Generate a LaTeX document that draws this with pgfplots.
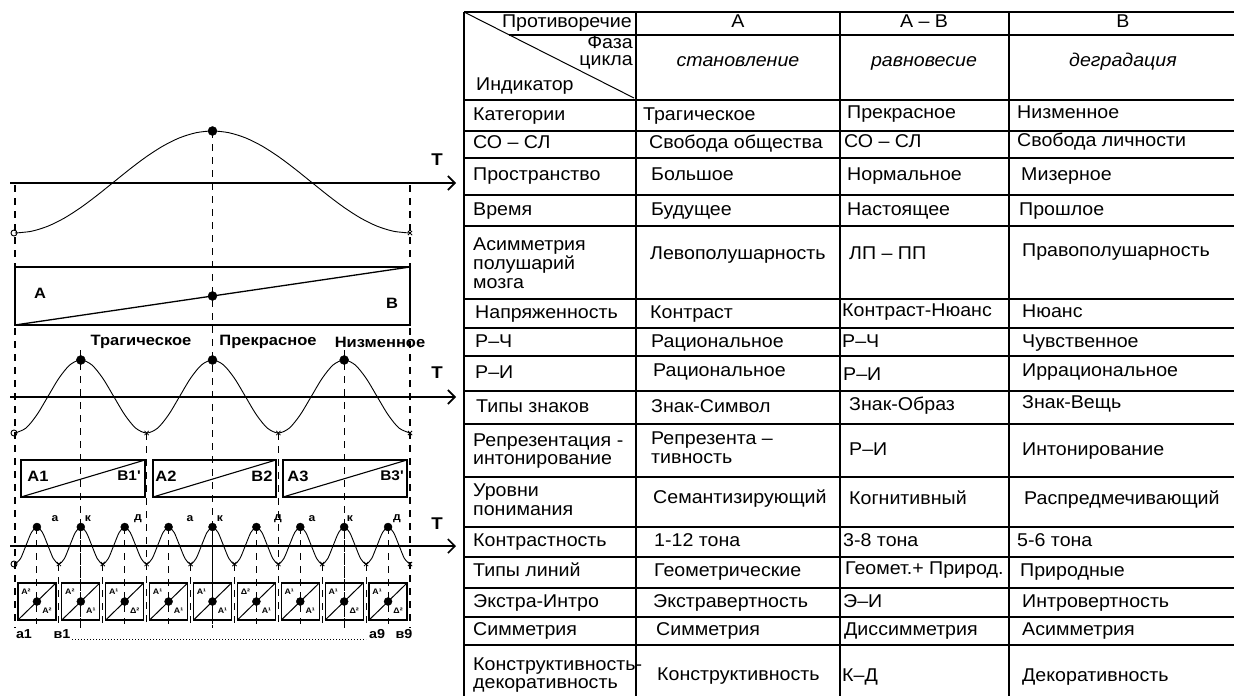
\documentclass[border=0pt]{standalone}
\usepackage{fontspec}
\setmainfont{Liberation Sans}
\newfontfamily\tabf[FakeStretch=1.06]{Liberation Sans}
\newfontfamily\tabi[FakeStretch=1.06]{Liberation Sans Italic}
\newfontfamily\lbl[FakeStretch=1.1]{Liberation Sans Bold}
\usepackage{pgfplots}
\pgfplotsset{compat=1.18}
\usetikzlibrary{arrows.meta}
\begin{document}
\begin{tikzpicture}
\tikzset{
 tab/.style={anchor=west, inner sep=0pt, font=\tabf\fontsize{18.5}{18.8}\selectfont, text height=13pt, text depth=4pt},
 tabm/.style={anchor=west, inner sep=0pt, font=\tabf\fontsize{18.5}{18.8}\selectfont, align=left},
 hdr/.style={anchor=center, inner sep=0pt, font=\tabi\fontsize{18.5}{18.8}\selectfont, text height=13pt, text depth=4pt},
 tl/.style={line width=1.2pt, black},
 dsh/.style={line width=1.1pt, dash pattern=on 7pt off 6pt},
 ax/.style={line width=1.4pt, -{Straight Barb[length=7pt,width=14pt,line width=1.6pt]}},
 bl/.style={inner sep=0pt, font=\lbl\fontsize{15}{16}\selectfont},
 bt/.style={inner sep=0pt, font=\lbl\fontsize{17}{17}\selectfont},
 bs/.style={inner sep=0pt, font=\lbl\fontsize{11}{11}\selectfont},
 bb/.style={inner sep=0pt, font=\lbl\fontsize{13}{13}\selectfont},
 sm/.style={inner sep=0pt, font=\lbl\fontsize{8}{8}\selectfont},
}
\begin{axis}[x=1pt, y=1pt, y dir=reverse, xmin=0, xmax=1234, ymin=0, ymax=696,
  hide axis, clip=false]
% ---------------- left figure: section 1 ----------------
\draw[ax] (10,183) -- (456,183);
\node[bt] at (437,160) {T};
\addplot[line width=0.9pt, smooth] coordinates {
(15,233) (31.46,231.26) (47.92,226.17) (64.38,218.06) (80.83,207.5) (97.29,195.2) (113.75,182) (130.21,168.8) (146.67,156.5) (163.13,145.94) (179.58,137.83) (196.04,132.74) (212.5,131) (228.96,132.74) (245.42,137.83) (261.88,145.94) (278.33,156.5) (294.79,168.8) (311.25,182) (327.71,195.2) (344.17,207.5) (360.63,218.06) (377.08,226.17) (393.54,231.26) (410,233)};
\draw[dsh] (15,185) -- (15,628);
\draw[dsh] (212.5,131) -- (212.5,628);
\draw[dsh] (410,185) -- (410,628);
\draw[line width=1.3pt] (15,267) rectangle (410,325);
\draw[line width=1.3pt] (15,325) -- (410,267);
\node[bl] at (40,293) {A};
\node[bl] at (392,303) {B};
% ---------------- section 2 ----------------
\node[bl] at (141,342) {Трагическое};
\node[bl] at (268,342) {Прекрасное};
\node[bl] at (380,342) {Низменное};
\draw[ax] (10,397) -- (456,397);
\node[bt] at (437,373) {T};
\addplot[line width=0.9pt, smooth] coordinates {
(15,433) (25.97,428.1) (36.94,414.75) (47.92,396.5) (58.89,378.25) (69.86,364.9) (80.83,360) (91.81,364.9) (102.78,378.25) (113.75,396.5) (124.72,414.75) (135.69,428.1)
(146.67,433) (157.64,428.1) (168.61,414.75) (179.58,396.5) (190.56,378.25) (201.53,364.9) (212.5,360) (223.47,364.9) (234.44,378.25) (245.42,396.5) (256.39,414.75) (267.36,428.1)
(278.33,433) (289.31,428.1) (300.28,414.75) (311.25,396.5) (322.22,378.25) (333.19,364.9) (344.17,360) (355.14,364.9) (366.11,378.25) (377.08,396.5) (388.06,414.75) (399.03,428.1) (410,433)};
\draw[dsh] (80.83,350) -- (80.83,628);
\draw[dsh] (344.17,350) -- (344.17,628);
\draw[dsh] (146.67,433) -- (146.67,628);
\draw[dsh] (278.33,433) -- (278.33,628);
\draw[line width=1.3pt] (21,460) rectangle (145,497);
\draw[line width=1.1pt] (21,497) -- (145,460);
\draw[line width=1.3pt] (153,460) rectangle (276,497);
\draw[line width=1.1pt] (153,497) -- (276,460);
\draw[line width=1.3pt] (283,460) rectangle (407,497);
\draw[line width=1.1pt] (283,497) -- (407,460);
\node[bl] at (38,476) {A1};
\node[bl, font=\lbl\fontsize{14}{15}\selectfont] at (129,476) {B1'};
\node[bl] at (166,476) {A2};
\node[bl] at (262,476) {B2};
\node[bl] at (298,476) {A3};
\node[bl, font=\lbl\fontsize{14}{15}\selectfont] at (392,476) {B3'};
% ---------------- section 3 ----------------
\draw[ax] (10,546) -- (456,546);
\node[bt] at (437,524) {T};
\addplot[line width=0.9pt, smooth] coordinates {
(15.00,564) (20.49,558.6) (25.97,545.5) (31.46,532.4) (36.94,527) (42.43,532.4) (47.92,545.5) (53.40,558.6)
(58.89,564) (64.38,558.6) (69.86,545.5) (75.35,532.4) (80.83,527) (86.32,532.4) (91.81,545.5) (97.29,558.6)
(102.78,564) (108.26,558.6) (113.75,545.5) (119.24,532.4) (124.72,527) (130.21,532.4) (135.69,545.5) (141.18,558.6)
(146.67,564) (152.15,558.6) (157.64,545.5) (163.13,532.4) (168.61,527) (174.10,532.4) (179.58,545.5) (185.07,558.6)
(190.56,564) (196.04,558.6) (201.53,545.5) (207.01,532.4) (212.50,527) (217.99,532.4) (223.47,545.5) (228.96,558.6)
(234.44,564) (239.93,558.6) (245.42,545.5) (250.90,532.4) (256.39,527) (261.88,532.4) (267.36,545.5) (272.85,558.6)
(278.33,564) (283.82,558.6) (289.31,545.5) (294.79,532.4) (300.28,527) (305.76,532.4) (311.25,545.5) (316.74,558.6)
(322.22,564) (327.71,558.6) (333.19,545.5) (338.68,532.4) (344.17,527) (349.65,532.4) (355.14,545.5) (360.63,558.6)
(366.11,564) (371.60,558.6) (377.08,545.5) (382.57,532.4) (388.06,527) (393.54,532.4) (399.03,545.5) (404.51,558.6) (410.00,564)};
\pgfplotsinvokeforeach{36.94,80.83,124.72,168.61,212.5,256.39,300.28,344.17,388.06}{
  \draw[dsh] (#1,527) -- (#1,624);
  \draw[line width=1.3pt] (#1-19,583) rectangle (#1+19,620);
  \draw[line width=1pt] (#1-19,620) -- (#1+19,583);
}
\pgfplotsinvokeforeach{58.89,102.78,190.56,234.44,322.22,366.11}{
  \draw[dsh] (#1,564) -- (#1,626);
}
\node[bs] at (55,519) {а};
\node[bs] at (88,519) {к};
\node[bs] at (138,519) {д};
\node[bs] at (190,519) {а};
\node[bs] at (220,519) {к};
\node[bs] at (278,519) {д};
\node[bs] at (312,519) {а};
\node[bs] at (350,519) {к};
\node[bs] at (397,519) {д};
\node[sm] at (25.94,592) {А²}; \node[sm] at (46.94,611) {А²};
\node[sm] at (69.83,592) {А²}; \node[sm] at (90.83,611) {А¹};
\node[sm] at (113.72,592) {А¹}; \node[sm] at (134.72,611) {Δ²};
\node[sm] at (157.61,592) {А¹}; \node[sm] at (178.61,611) {А¹};
\node[sm] at (201.5,592) {А¹}; \node[sm] at (222.5,611) {А¹};
\node[sm] at (245.39,592) {Δ²}; \node[sm] at (266.39,611) {А¹};
\node[sm] at (289.28,592) {А¹}; \node[sm] at (310.28,611) {А¹};
\node[sm] at (333.17,592) {А¹}; \node[sm] at (354.17,611) {Δ²};
\node[sm] at (377.06,592) {А¹}; \node[sm] at (398.06,611) {Δ²};
\node[bb] at (24,634) {а1};
\node[bb] at (62,634) {в1};
\draw[line width=1pt, dash pattern=on 1pt off 2pt] (72,639) -- (366,639);
\node[bb] at (377,634) {а9};
\node[bb] at (404,634) {в9};
% markers
\addplot[only marks, mark=*, mark size=4.5pt] coordinates {(212.5,131) (212.5,296) (80.83,360) (212.5,360) (344.17,360)};
\addplot[only marks, mark=*, mark size=4pt] coordinates {(36.94,527) (80.83,527) (124.72,527) (168.61,527) (212.5,527) (256.39,527) (300.28,527) (344.17,527) (388.06,527)
 (36.94,601.5) (80.83,601.5) (124.72,601.5) (168.61,601.5) (212.5,601.5) (256.39,601.5) (300.28,601.5) (344.17,601.5) (388.06,601.5)};
\addplot[only marks, mark=x, mark size=3pt, line width=0.8pt] coordinates {(410,233) (146.67,433) (278.33,433) (410,433)
 (58.89,564) (102.78,564) (146.67,564) (190.56,564) (234.44,564) (278.33,564) (322.22,564) (366.11,564) (410,564)};
\addplot[only marks, mark=o, mark size=3pt, line width=0.9pt, fill=white] coordinates {(14,233) (14,433) (14,564)};
% ---------------- table ----------------
\pgfplotsinvokeforeach{12,100,131,158,195,226,299,328,356,391,424,477,527,557,588,617,645}{
  \draw[tl] (464,#1) -- (1234,#1);
}
\draw[tl] (509,35) -- (1234,35);
\pgfplotsinvokeforeach{464,636,840,1009}{
  \draw[tl] (#1,12) -- (#1,696);
}
\draw[line width=1pt] (464,12) -- (634,98);
\node[tab, anchor=east] at (632,23) {Противоречие};
\node[anchor=north east, inner sep=0pt, align=right, font=\tabf\fontsize{18.5}{16.5}\selectfont] at (633,35.5) {Фаза\\цикла};
\node[tab] at (476,86) {Индикатор};
\node[tab, anchor=center] at (738,23) {A};
\node[tab, anchor=center] at (924,23) {A – B};
\node[tab, anchor=center] at (1123,23) {B};
\node[hdr] at (738,62) {становление};
\node[hdr] at (924,62) {равновесие};
\node[hdr] at (1123,62) {деградация};
% column 1
\node[tab] at (473,116) {Категории};
\node[tab] at (473,144) {СО  – СЛ};
\node[tab] at (473,176) {Пространство};
\node[tab] at (473,211) {Время};
\node[tabm] at (473,263) {Асимметрия\\полушарий\\мозга};
\node[tab] at (475,314) {Напряженность};
\node[tab] at (475,343) {Р–Ч};
\node[tab] at (475,374) {Р–И};
\node[tab] at (476,408) {Типы знаков};
\node[tabm] at (473,451) {Репрезентация -\\интонирование};
\node[tabm] at (473,500) {Уровни\\понимания};
\node[tab] at (473,542) {Контрастность};
\node[tab] at (473,572) {Типы линий};
\node[tab] at (473,603) {Экстра-Интро};
\node[tab] at (473,631) {Симметрия};
\node[tabm] at (473,675) {Конструктивность-\\декоративность};
% column 2
\node[tab] at (643,116) {Трагическое};
\node[tab] at (649,144) {Свобода общества};
\node[tab] at (651,176) {Большое};
\node[tab] at (651,211) {Будущее};
\node[tab] at (650,255) {Левополушарность};
\node[tab] at (650,314) {Контраст};
\node[tab] at (651,343) {Рациональное};
\node[tab] at (653,372) {Рациональное};
\node[tab] at (651,408) {Знак-Символ};
\node[tabm] at (651,448) {Репрезента –\\тивность};
\node[tab] at (653,499) {Семантизирующий};
\node[tab] at (654,542) {1-12 тона};
\node[tab] at (654,572) {Геометрические};
\node[tab] at (653,603) {Экстравертность};
\node[tab] at (656,631) {Симметрия};
\node[tab] at (657,676) {Конструктивность};
% column 3
\node[tab] at (847,114) {Прекрасное};
\node[tab] at (844,143) {СО – СЛ};
\node[tab] at (847,176) {Нормальное};
\node[tab] at (847,211) {Настоящее};
\node[tab] at (849,255) {ЛП – ПП};
\node[tab] at (842,312) {Контраст-Нюанс};
\node[tab] at (842,343) {Р–Ч};
\node[tab] at (843,376) {Р–И};
\node[tab] at (849,406) {Знак-Образ};
\node[tab] at (849,451) {Р–И};
\node[tab] at (849,500) {Когнитивный};
\node[tab] at (843,542) {3-8 тона};
\node[tab] at (845,570) {Геомет.+ Природ.};
\node[tab] at (843,603) {Э–И};
\node[tab] at (844,631) {Диссимметрия};
\node[tab] at (842,677) {К–Д};
% column 4
\node[tab] at (1017,114) {Низменное};
\node[tab] at (1017,142) {Свобода личности};
\node[tab] at (1021,176) {Мизерное};
\node[tab] at (1019,211) {Прошлое};
\node[tab] at (1022,252) {Правополушарность};
\node[tab] at (1022,313) {Нюанс};
\node[tab] at (1022,343) {Чувственное};
\node[tab] at (1022,372) {Иррациональное};
\node[tab] at (1022,404) {Знак-Вещь};
\node[tab] at (1022,451) {Интонирование};
\node[tab] at (1024,500) {Распредмечивающий};
\node[tab] at (1017,542) {5-6 тона};
\node[tab] at (1020,572) {Природные};
\node[tab] at (1022,603) {Интровертность};
\node[tab] at (1022,631) {Асимметрия};
\node[tab] at (1022,677) {Декоративность};
\end{axis}
\pgfresetboundingbox
\path (current axis.south west) rectangle (current axis.north east);
\end{tikzpicture}
\end{document}
